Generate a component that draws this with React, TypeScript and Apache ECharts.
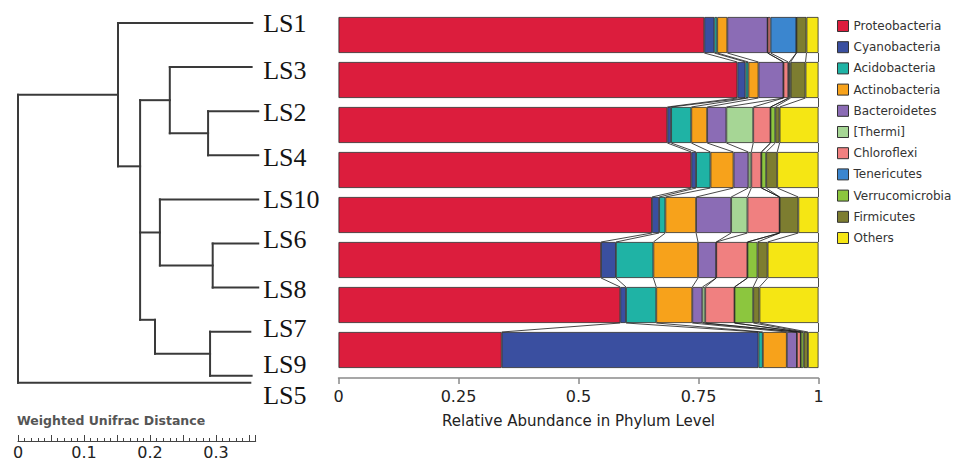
import React, { useEffect, useRef } from 'react';
import * as echarts from 'echarts';

// ---- bar chart data ----
const categories = ['LS1', 'LS3', 'LS2', 'LS4', 'LS10', 'LS6', 'LS8', 'LS7'];
const phyla = ['Proteobacteria', 'Cyanobacteria', 'Acidobacteria', 'Actinobacteria', 'Bacteroidetes', '[Thermi]', 'Chloroflexi', 'Tenericutes', 'Verrucomicrobia', 'Firmicutes', 'Others'];
const colors = ['#dc1d3d', '#3a4fa0', '#1fb3a5', '#f7a21b', '#8b6cb5', '#a6d695', '#f08080', '#3b86cf', '#8cc63e', '#7d7d30', '#f5e614'];

const proteobacteria = [0.762, 0.831, 0.685, 0.735, 0.653, 0.547, 0.587, 0.340];
const cyanobacteria = [0.021, 0.017, 0.008, 0.010, 0.015, 0.031, 0.012, 0.535];
const acidobacteria = [0.006, 0.006, 0.042, 0.030, 0.013, 0.078, 0.063, 0.009];
const actinobacteria = [0.021, 0.021, 0.033, 0.048, 0.064, 0.093, 0.075, 0.050];
const bacteroidetes = [0.084, 0.052, 0.040, 0.031, 0.073, 0.038, 0.021, 0.021];
const thermi = [0, 0, 0.056, 0.006, 0.034, 0, 0.006, 0];
const chloroflexi = [0.006, 0.010, 0.036, 0.021, 0.067, 0.065, 0.061, 0.008];
const tenericutes = [0.054, 0.002, 0, 0, 0, 0, 0, 0];
const verrucomicrobia = [0, 0.003, 0.010, 0.010, 0, 0.021, 0.039, 0.006];
const firmicutes = [0.021, 0.031, 0.009, 0.023, 0.039, 0.021, 0.013, 0.009];
const others = [0.025, 0.027, 0.081, 0.086, 0.042, 0.106, 0.123, 0.022];
const seriesValues = [proteobacteria, cyanobacteria, acidobacteria, actinobacteria, bacteroidetes, thermi, chloroflexi, tenericutes, verrucomicrobia, firmicutes, others];
const abundanceTicks = [0, 0.25, 0.5, 0.75, 1];

// ---- dendrogram data ----
const leafNames = ['LS1', 'LS3', 'LS2', 'LS4', 'LS10', 'LS6', 'LS8', 'LS7', 'LS9', 'LS5'];
const leafPos = [0, 1, 2, 3, 4, 5, 6, 7, 8, 8.16];
const leafLabelPos = [0, 1.07, 2.03, 3.04, 4.01, 4.92, 6.05, 6.92, 7.74, 8.44];
const leafEnd = [0.355, 0.354, 0.364, 0.364, 0.364, 0.364, 0.364, 0.352, 0.354, 0.352];
const nodeNames = ['R', 'A', 'B', 'C', 'G', 'D', 'K', 'E', 'I'];
const nodeDist = [0, 0.1515, 0.185, 0.230, 0.288, 0.215, 0.295, 0.2076, 0.291];
const nodeChildren = [['A', 'LS5'], ['LS1', 'B'], ['C', 'D', 'E'], ['LS3', 'G'], ['LS2', 'LS4'], ['LS10', 'K'], ['LS6', 'LS8'], ['I'], ['LS7', 'LS9']];
const nodeAttach: (number | null)[] = [null, null, null, null, null, null, null, 6.73, null];
const distanceTicks = [0, 0.1, 0.2, 0.3];

function buildTreeSegments() {
  const yCache: Record<string, number> = {};
  const distOf = (id: string): number => {
    const li = leafNames.indexOf(id);
    if (li >= 0) return leafEnd[li];
    return nodeDist[nodeNames.indexOf(id)];
  };
  const yOf = (id: string): number => {
    if (yCache[id] !== undefined) return yCache[id];
    const li = leafNames.indexOf(id);
    let y: number;
    if (li >= 0) y = leafPos[li];
    else {
      const ni = nodeNames.indexOf(id);
      const ch = nodeChildren[ni];
      if (nodeAttach[ni] !== null) y = nodeAttach[ni] as number;
      else y = (yOf(ch[0]) + yOf(ch[1])) / 2;
    }
    yCache[id] = y;
    return y;
  };
  const segs: number[][] = [];
  nodeNames.forEach((id, ni) => {
    const d = nodeDist[ni];
    const ys = nodeChildren[ni].map(yOf).concat([yOf(id)]);
    segs.push([d, Math.min(...ys), d, Math.max(...ys)]);
    nodeChildren[ni].forEach((c) => {
      const cy = yOf(c);
      segs.push([d, cy, distOf(c), cy]);
    });
  });
  return segs;
}

function buildConnectors() {
  const cum = categories.map((_, i) => {
    let s = 0;
    return seriesValues.map((arr) => (s += arr[i]));
  });
  const out: number[][] = [];
  for (let i = 0; i < categories.length - 1; i++) {
    for (let k = 0; k < seriesValues.length; k++) {
      out.push([cum[i][k], i, cum[i + 1][k]]);
    }
  }
  return out;
}

const FONT = '"DejaVu Sans", sans-serif';

export default function App() {
  const ref = useRef<HTMLDivElement>(null);
  useEffect(() => {
    const chart = echarts.init(ref.current as HTMLDivElement, null, { renderer: 'svg' });
    const treeSegs = buildTreeSegments();
    const connectors = buildConnectors();
    const barHalf = 18;

    const option: any = {
      animation: false,
      backgroundColor: '#ffffff',
      textStyle: { fontFamily: FONT },
      grid: [
        { left: 338.5, width: 480, top: 12.5, height: 360, containLabel: false },
        { left: 18, width: 237.6, top: 23, height: 361.62, containLabel: false },
        { left: 18, width: 237.6, top: 430, height: 11, containLabel: false },
      ],
      xAxis: [
        {
          gridIndex: 0, type: 'value', min: 0, max: 1, interval: 0.25, offset: 5.5,
          axisLine: { show: true, lineStyle: { color: '#8a8a8a', width: 1.5 } },
          axisTick: { show: true, length: 6, lineStyle: { color: '#8a8a8a', width: 1.5 } },
          axisLabel: {
            color: '#222', fontSize: 16, margin: 10, fontFamily: FONT,
            formatter: (v: number) => (abundanceTicks.indexOf(v) >= 0 ? String(v) : ''),
          },
          splitLine: { show: false },
          name: 'Relative Abundance in Phylum Level', nameLocation: 'middle', nameGap: 35,
          nameTextStyle: { color: '#222', fontSize: 15, fontFamily: FONT },
        },
        { gridIndex: 1, type: 'value', min: 0, max: 0.36, show: false },
        {
          gridIndex: 2, type: 'value', min: 0, max: 0.36, interval: 0.05, position: 'bottom',
          axisLine: { show: true, lineStyle: { color: '#444', width: 1.2 } },
          axisTick: { show: true, inside: true, length: 6, lineStyle: { color: '#444', width: 1 } },
          minorTick: { show: true, splitNumber: 5, length: 3, lineStyle: { color: '#444', width: 1 } },
          axisLabel: {
            color: '#222', fontSize: 16, margin: 3, fontFamily: FONT, showMaxLabel: false,
            formatter: (v: number) => {
              const r = Math.round(v * 100) / 100;
              return distanceTicks.indexOf(r) >= 0 ? String(r) : '';
            },
          },
          splitLine: { show: false },
          minorSplitLine: { show: false },
        },
      ],
      yAxis: [
        { gridIndex: 0, type: 'category', data: categories, inverse: true, show: false },
        { gridIndex: 1, type: 'value', min: 0, max: 8.2, inverse: true, show: false },
        { gridIndex: 2, type: 'value', min: 0, max: 1, show: false },
      ],
      legend: {
        orient: 'vertical', left: 832, top: 15, itemWidth: 11, itemHeight: 11, itemGap: 9.2,
        icon: 'rect', selectedMode: false,
        data: phyla,
        itemStyle: { borderColor: '#333', borderWidth: 1 },
        textStyle: { color: '#333', fontSize: 12, fontFamily: FONT, lineHeight: 12, padding: [0, 0, 0, 0] },
      },
      graphic: [
        {
          type: 'text', left: 17, top: 414,
          style: { text: 'Weighted Unifrac Distance', fill: '#555', fontSize: 12.5, fontWeight: 'bold', fontFamily: FONT },
        },
      ],
      series: [
        ...phyla.map((name, k) => ({
          name, type: 'bar', stack: 'total', xAxisIndex: 0, yAxisIndex: 0, barWidth: 36,
          data: seriesValues[k],
          itemStyle: { color: colors[k], borderColor: '#2b2b2b', borderWidth: 0.8 },
          emphasis: { disabled: true },
        })),
        {
          type: 'custom', xAxisIndex: 0, yAxisIndex: 0, z: 3, silent: true,
          data: connectors,
          encode: { x: 0, y: 1 },
          renderItem: (params: any, api: any) => {
            const a = api.coord([api.value(0), api.value(1)]);
            const b = api.coord([api.value(2), api.value(1) + 1]);
            return {
              type: 'line',
              shape: { x1: a[0], y1: a[1] + barHalf, x2: b[0], y2: b[1] - barHalf },
              style: { stroke: '#1a1a1a', lineWidth: 0.8 },
            };
          },
        },
        {
          type: 'custom', xAxisIndex: 1, yAxisIndex: 1, silent: true,
          data: treeSegs,
          encode: { x: [0, 2], y: [1, 3] },
          renderItem: (params: any, api: any) => {
            const a = api.coord([api.value(0), api.value(1)]);
            const b = api.coord([api.value(2), api.value(3)]);
            return {
              type: 'line',
              shape: { x1: a[0], y1: a[1], x2: b[0], y2: b[1] },
              style: { stroke: '#3a3a3a', lineWidth: 2, lineCap: 'square' },
            };
          },
        },
        {
          type: 'custom', xAxisIndex: 1, yAxisIndex: 1, silent: true,
          data: leafLabelPos.map((p) => [0.364, p]),
          encode: { x: 0, y: 1 },
          renderItem: (params: any, api: any) => {
            const a = api.coord([api.value(0), api.value(1)]);
            return {
              type: 'text',
              x: a[0] + 5, y: a[1],
              style: {
                text: leafNames[params.dataIndex], fill: '#141414',
                fontSize: 26, fontFamily: '"Liberation Serif", serif',
                align: 'left', verticalAlign: 'middle',
              },
            };
          },
        },
        { type: 'line', xAxisIndex: 2, yAxisIndex: 2, data: [], silent: true },
      ],
    };
    chart.setOption(option);
    return () => chart.dispose();
  }, []);
  return <div ref={ref} style={{ position: 'fixed', left: 0, top: 0, width: 966, height: 462 }} />;
}
